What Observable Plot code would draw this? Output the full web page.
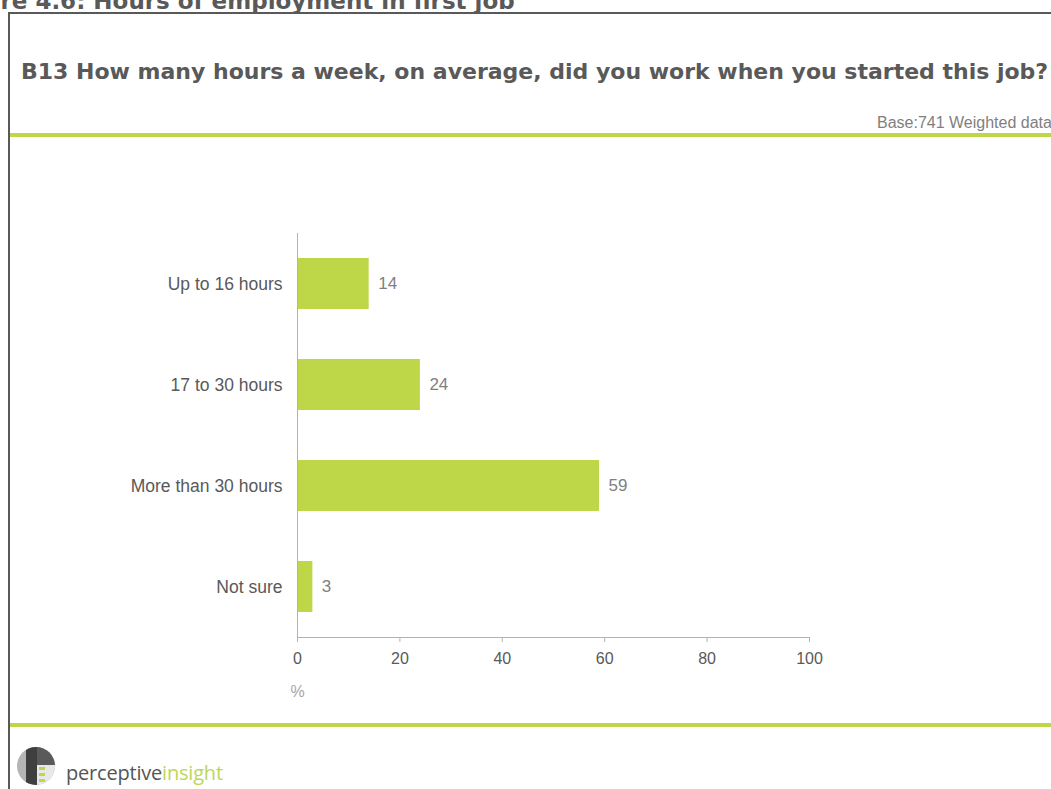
<!DOCTYPE html>
<html><head><meta charset="utf-8">
<script src="https://cdn.jsdelivr.net/npm/d3@7"></script>
<script src="https://cdn.jsdelivr.net/npm/@observablehq/plot@0.6"></script>
<style>
html,body{margin:0;padding:0;background:#fff;}
body{width:1051px;height:789px;position:relative;overflow:hidden;}
.abs{position:absolute;line-height:1;white-space:nowrap;}
#fig{left:-56px;top:-12.5px;font:bold 23px "DejaVu Sans",Verdana,sans-serif;color:#595959;}
#boxL{left:8px;top:12px;width:2px;height:790px;background:#595959;}
#boxT{left:8px;top:12px;width:1060px;height:2px;background:#595959;}
#title{left:21px;top:58.7px;font:bold 22px "DejaVu Sans",Verdana,sans-serif;color:#595959;}
#base{left:877px;top:113.5px;font:16px "Liberation Sans",Arial,sans-serif;color:#7f7f7f;}
.gl{position:absolute;left:10px;width:1045px;height:4px;background:#bdd748;}
#chart{position:absolute;left:0;top:140px;}
#logo{left:15px;top:745px;}
#logotext{left:66px;top:759px;font:20px "Open Sans",sans-serif;letter-spacing:-0.2px;color:#555;}
#logotext span{color:#bcd65a;}
</style></head><body>
<div class="abs" id="fig">Figure 4.6: Hours of employment in first job</div>
<div class="abs" id="boxL"></div>
<div class="abs" id="boxT"></div>
<div class="abs" id="title">B13 How many hours a week, on average, did you work when you started this job?</div>
<div class="abs" id="base">Base:741 Weighted data</div>
<div class="gl" style="top:133px"></div>
<div id="chart"></div>
<div class="gl" style="top:723px"></div>
<div class="abs" id="logo">
<svg width="44" height="44" viewBox="0 0 44 44">
<defs><clipPath id="cc"><circle cx="21" cy="21" r="19"/></clipPath></defs>
<g clip-path="url(#cc)">
<rect x="0" y="0" width="44" height="44" fill="#b5b5b5"/>
<rect x="11" y="0" width="11" height="44" fill="#3f3f3f"/>
<rect x="22" y="0" width="22" height="20" fill="#5a5a5a"/>
<rect x="22" y="20" width="22" height="24" fill="#e8e8e8"/>
<rect x="24" y="22" width="6" height="3" fill="#bdd748"/>
<rect x="24" y="28" width="6" height="3" fill="#bdd748"/>
<rect x="24" y="34" width="6" height="3" fill="#bdd748"/>
<rect x="24" y="40" width="6" height="3" fill="#bdd748"/>
</g>
</svg>
</div>
<div class="abs" id="logotext">perceptive<span>insight</span></div>
<script>
const categories = ["Up to 16 hours", "17 to 30 hours", "More than 30 hours", "Not sure"];
const values = [14, 24, 59, 3];
const xTicks = [0, 20, 40, 60, 80, 100];
const xDomain = [0, 100];
const axisLabel = "%";

const data = categories.map((c, i) => ({category: c, value: values[i]}));

const chart = Plot.plot({
  width: 1051,
  height: 580,
  marginLeft: 297,
  marginRight: 242,
  marginTop: 93,
  marginBottom: 83,
  style: {fontFamily: "'Liberation Sans', Arial, sans-serif", fontSize: "16px", background: "transparent", overflow: "visible"},
  x: {domain: xDomain},
  y: {domain: categories, paddingInner: 0.5, paddingOuter: 0.25},
  marks: [
    Plot.barX(data, {x: "value", y: "category", fill: "#bdd748"}),
    Plot.frame({anchor: "left", stroke: "#b3b3b3"}),
    Plot.frame({anchor: "bottom", stroke: "#b3b3b3"}),
    Plot.axisX({ticks: xTicks, tickSize: 5, tickPadding: 10, stroke: "#b3b3b3", fill: "#595959", fontSize: 16, label: null}),
    Plot.axisY({tickSize: 0, tickPadding: 15, fill: "#595959", fontSize: 17.5, label: null}),
    Plot.text(data, {x: "value", y: "category", text: d => String(d.value), textAnchor: "start", dx: 9, fill: "#7f7f7f", fontSize: 17}),
    Plot.text([axisLabel], {frameAnchor: "bottom-left", textAnchor: "middle", lineAnchor: "middle", dy: 54, fill: "#a6a6a6", fontSize: 16})
  ]
});
document.getElementById("chart").appendChild(chart);
</script>
</body></html>
